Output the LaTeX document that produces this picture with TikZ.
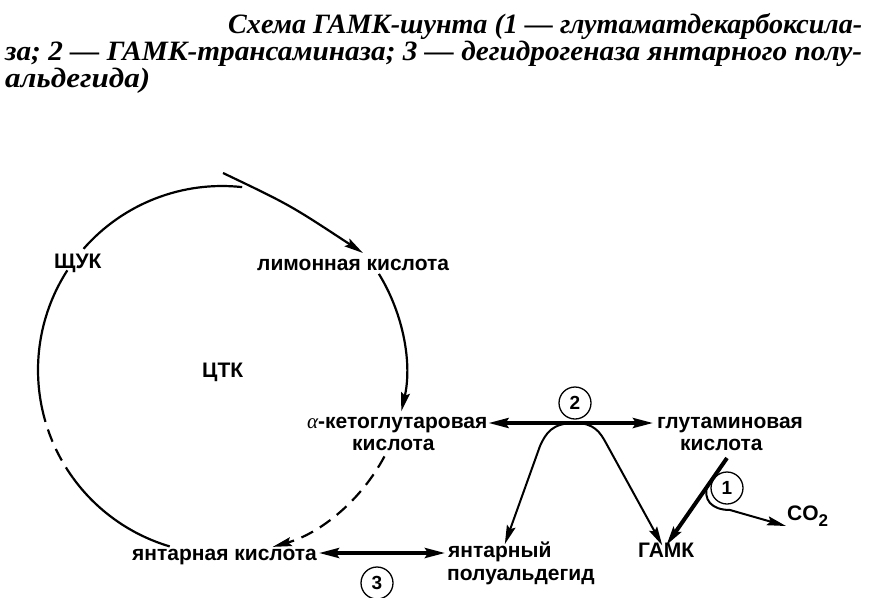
\documentclass[tikz,border=0pt]{standalone}
\usepackage{fontspec}
\setmainfont{Liberation Serif}
\newfontfamily\lab{Liberation Sans}
\usetikzlibrary{arrows.meta}
\begin{document}
\begin{tikzpicture}[x=1pt,y=-1pt,
  lbl/.style={font=\lab\bfseries\fontsize{21}{24}\selectfont, inner sep=0pt, anchor=base west},
  capt/.style={font=\bfseries\itshape\fontsize{28}{28}\selectfont, inner sep=0pt, anchor=base west},
  cyc/.style={line width=2.2pt},
  brk/.style={cyc, dash pattern=on 13pt off 8pt},
  tip/.style={-{Stealth[length=19pt,width=9pt,inset=3pt]}},
  dbl/.style={line width=3.5pt, {Stealth[length=20pt,width=10pt,inset=3pt]}-{Stealth[length=20pt,width=10pt,inset=3pt]}},
  thn/.style={line width=2pt},
  num/.style={circle, draw, line width=1.3pt, minimum size=32pt, inner sep=0pt, font=\lab\bfseries\fontsize{19}{19}\selectfont}]
\useasboundingbox (0,0) rectangle (875,597);
% caption
\node[capt] (c1) at (228,33) {\resizebox{634pt}{\height}{Схема ГАМК-шунта (1 — глутаматдекарбоксила-}};
\node[capt] (c2) at (5,60) {\resizebox{857pt}{\height}{за; 2 — ГАМК-трансаминаза; 3 — дегидрогеназа янтарного полу-}};
\node[capt] (c3) at (5,87) {\resizebox{145pt}{\height}{альдегида)}};
% labels
\node[lbl] (shuk) at (54,268) {ЩУК};
\node[lbl] (cit) at (257,270) {лимонная кислота};
\node[lbl] (ctk) at (202,377) {ЦТК};
\node[lbl] (akg1) at (307,428) {{\rmfamily\mdseries\itshape α}-кетоглутаровая};
\node[lbl] (akg2) at (352,450) {кислота};
\node[lbl] (glu1) at (657,428) {глутаминовая};
\node[lbl] (glu2) at (680,450) {кислота};
\node[lbl] (suc) at (132,560) {янтарная кислота};
\node[lbl] (ssa1) at (448,557) {янтарный};
\node[lbl] (ssa2) at (447,580) {полуальдегид};
\node[lbl] (gaba) at (638,557) {ГАМК};
\node[lbl] (co2) at (787,520) {CO\raisebox{-6pt}{\fontsize{17}{17}\selectfont 2}};
% enzyme numbers
\node[num] (n2) at (575,403) {2};
\node[num] (n1) at (727,488) {1};
\node[num] (n3) at (377,583) {3};
% cycle
\coordinate (O) at (222,370);
\coordinate (inA) at (223,173);
\coordinate (inB) at (363,253);
\coordinate (a1) at ([shift={(O)}]221.2:184);
\coordinate (a2) at ([shift={(O)}]-31.5:184);
\coordinate (a3) at ([shift={(O)}]28:184);
\coordinate (a4) at ([shift={(O)}]106.5:184);
\coordinate (a5) at ([shift={(O)}]144:184);
\coordinate (a6) at ([shift={(O)}]167.4:184);
\coordinate (a7) at ([shift={(O)}]212.8:184);
\draw[cyc] (a1) arc[start angle=221.2,end angle=276.3,radius=184];
\draw[cyc,tip] (inA) .. controls (290,205) .. (inB);
\draw[cyc,tip] (a2) arc[start angle=-31.5,end angle=13,radius=184];
\draw[brk,tip] (a3) arc[start angle=28,end angle=74,radius=184];
\draw[cyc] (a4) arc[start angle=106.5,end angle=144,radius=184];
\draw[brk] (a5) arc[start angle=144,end angle=167.4,radius=184];
\draw[cyc] (a6) arc[start angle=167.4,end angle=212.8,radius=184];
% transamination
\coordinate (hump) at (575,423);
\draw[dbl] ([xshift=1pt,yshift=5pt]akg1.base east) -- ([xshift=-4pt,yshift=5pt]glu1.base west);
\draw[thn,tip] (hump) .. controls (552,423) and (546,433) .. (540,446) -- ([xshift=5pt,yshift=-3pt]ssa1.north);
\draw[thn,tip] (hump) .. controls (594,423) and (600,432) .. (606,443) -- ([xshift=-4pt,yshift=-3pt]gaba.north);
% decarboxylation
\coordinate (gluB) at (727,458);
\draw[line width=4pt,tip] (gluB) -- ([xshift=0pt,yshift=-3pt]gaba.north);
\coordinate (loopS) at (708,484);
\draw[thn,tip] (loopS) .. controls (702,500) and (712,510) .. (730,510) -- ([xshift=-1pt,yshift=-6pt]co2.base west);
% dehydrogenase
\draw[dbl] ([xshift=2pt,yshift=7pt]suc.base east) -- ([xshift=-3pt,yshift=4pt]ssa1.base west);
\end{tikzpicture}
\end{document}
